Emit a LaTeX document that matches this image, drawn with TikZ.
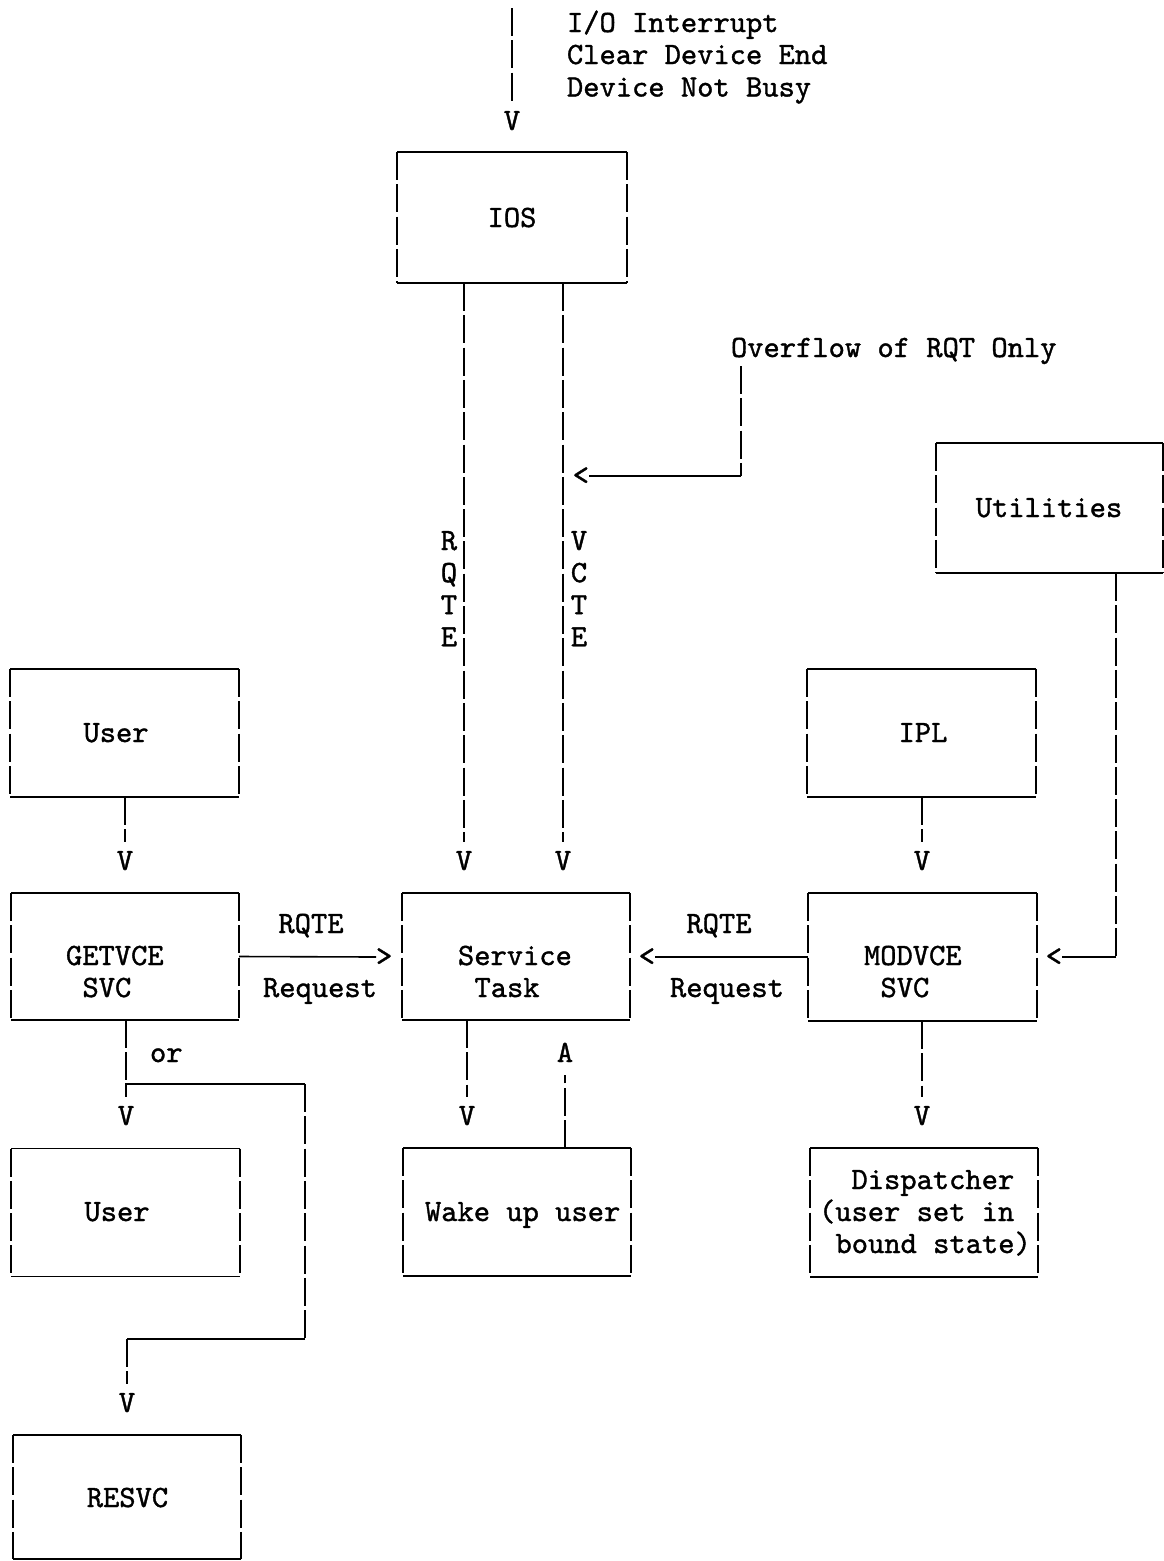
\documentclass[tikz,border=0pt]{standalone}
% typewriter face, slightly heavier than the plain mono cut
\font\typeface="[lmmono10-regular]:embolden=1.2" at 31pt
\begin{document}
\begin{tikzpicture}[x=1pt,y=-1pt,
  every node/.style={inner sep=0pt, outer sep=0pt, font=\typeface},
  txt/.style={anchor=base west},
  ctxt/.style={anchor=base},
  rule/.style={draw, line width=1.6pt, line cap=butt},
  bar/.style={rule, dash pattern=on 28pt off 4.3pt},
  down/.style={bar, shorten >=9pt},
  pane/.style={minimum width=229pt, minimum height=128pt,
    append after command={
      (\tikzlastnode.north west) edge[rule] (\tikzlastnode.north east)
      (\tikzlastnode.south west) edge[rule] (\tikzlastnode.south east)
      (\tikzlastnode.north west) edge[bar] (\tikzlastnode.south west)
      (\tikzlastnode.north east) edge[bar] (\tikzlastnode.south east)}},
]
\useasboundingbox (0,0) rectangle (1164,1561);

% ---- boxes ----
\node[pane, minimum width=230pt, minimum height=131pt] (ios) at (512,217.5) {};
\node[pane, minimum width=227pt, minimum height=130pt] (util) at (1049.5,508) {};
\node[pane] (user1) at (124.5,733) {};
\node[pane] (ipl) at (921.5,733) {};
\node[pane, minimum width=228pt, minimum height=127pt] (getvce) at (125,956.5) {};
\node[pane, minimum width=228pt, minimum height=127pt] (svctask) at (516,956.5) {};
\node[pane, minimum width=229pt, minimum height=128pt] (modvce) at (922.5,957) {};
\node[pane] (user2) at (125.5,1212.5) {};
\node[pane, minimum width=228pt] (wake) at (517,1212) {};
\node[pane, minimum width=228pt, minimum height=129pt] (disp) at (924,1212.5) {};
\node[pane, minimum width=228pt, minimum height=124pt] (resvc) at (127,1497) {};

% ---- box texts ----
\node[ctxt] (iosT) at (512,227) {IOS};
\node[ctxt] (utilT) at (1049,517) {Utilities};
\node[ctxt] (user1T) at (116,742) {User};
\node[ctxt] (iplT) at (923,742) {IPL};
\node[txt] (getT1) at (66,965) {GETVCE};
\node[txt] (getT2) at (82.5,997) {SVC};
\node[txt] (svcT1) at (458,965) {Service};
\node[txt] (svcT2) at (474.5,997) {Task};
\node[txt] (modT1) at (864,965) {MODVCE};
\node[txt] (modT2) at (880.5,997) {SVC};
\node[ctxt] (user2T) at (117,1221) {User};
\node[txt] (wakeT) at (425,1221) {Wake up user};
\node[txt] (dispT1) at (851.5,1189) {Dispatcher};
\node[txt] (dispT2) at (819,1221) {(user set in};
\node[txt] (dispT3) at (835.5,1253) {bound state)};
\node[ctxt] (resvcT) at (127.5,1507) {RESVC};

% ---- free labels ----
\node[txt] (io1) at (567,32) {I/O Interrupt};
\node[txt] (io2) at (567,64) {Clear Device End};
\node[txt] (io3) at (567,96.5) {Device Not Busy};
\node[txt] (ovT) at (731,357) {Overflow of RQT Only};
\foreach \ch [count=\i from 0] in {R,Q,T,E}
  \node[ctxt] (rq\i) at (449,550+32.1*\i) {\ch};
\foreach \ch [count=\i from 0] in {V,C,T,E}
  \node[ctxt] (vc\i) at (579,550+32.1*\i) {\ch};
\node[ctxt] (rqL) at (311,933) {RQTE};
\node[ctxt] (reqL) at (320,997) {Request};
\node[ctxt] (rqR) at (719,933) {RQTE};
\node[ctxt] (reqR) at (727,997) {Request};
\node[txt] (orT) at (150,1062) {or};

% ---- typed arrow heads ----
\node[ctxt] (vio) at (512,130) {V};
\node[ctxt] (vrq) at (464,870) {V};
\node[ctxt] (vvc) at (563,870) {V};
\node[ctxt] (vu1) at (125,870) {V};
\node[ctxt] (vipl) at (922,870) {V};
\node[ctxt] (vget) at (126,1125) {V};
\node[ctxt] (vsvc) at (467,1125) {V};
\node[ctxt] (vmod) at (922,1125) {V};
\node[ctxt] (vres) at (127,1412) {V};
\node[ctxt] (aup) at (565,1062) {A};
\node[anchor=east] (ltvc) at (589,476) {<};
\node[anchor=west] (gtget) at (376,957) {>};
\node[anchor=east] (ltsvc) at (655,957) {<};
\node[anchor=east] (ltmod) at (1062,957) {<};

% ---- connectors ----
\coordinate (iotop) at (512,8);
\draw[down] (iotop) -- (vio.north);
\draw[down] (ios.south -| vrq) -- (vrq.north);
\draw[down] (ios.south -| vvc) -- (vvc.north);

\coordinate (ovtop) at (741,366);
\coordinate (ovturn) at (741,476);
\draw[bar] (ovtop) -- (ovturn);
\draw[rule] (ovturn) -- (ltvc.east);

\coordinate (utturn) at (1116,957);
\draw[bar] (util.south -| utturn) -- (utturn);
\draw[rule] (utturn) -- (ltmod.east);

\draw[down] (user1.south -| vu1) -- (vu1.north);
\draw[down] (ipl.south -| vipl) -- (vipl.north);

\draw[rule] (getvce.east) -- (gtget.west);
\draw[rule] (modvce.west) -- (ltsvc.east);

\draw[down] (getvce.south -| vget) -- (vget.north);
\coordinate (orsplit) at (125,1084);
\coordinate (orright) at (305,1084);
\coordinate (orlow) at (305,1339);
\coordinate (orleft) at (127,1339);
\draw[rule] (orsplit) -- (orright);
\draw[bar] (orright) -- (orlow);
\draw[rule] (orlow) -- (orleft);
\draw[down] (orleft) -- (vres.north);

\draw[down] (svctask.south -| vsvc) -- (vsvc.north);
\draw[bar, shorten >=13pt] (wake.north -| aup) -- (aup.south);
\draw[down] (modvce.south -| vmod) -- (vmod.north);
\end{tikzpicture}
\end{document}
